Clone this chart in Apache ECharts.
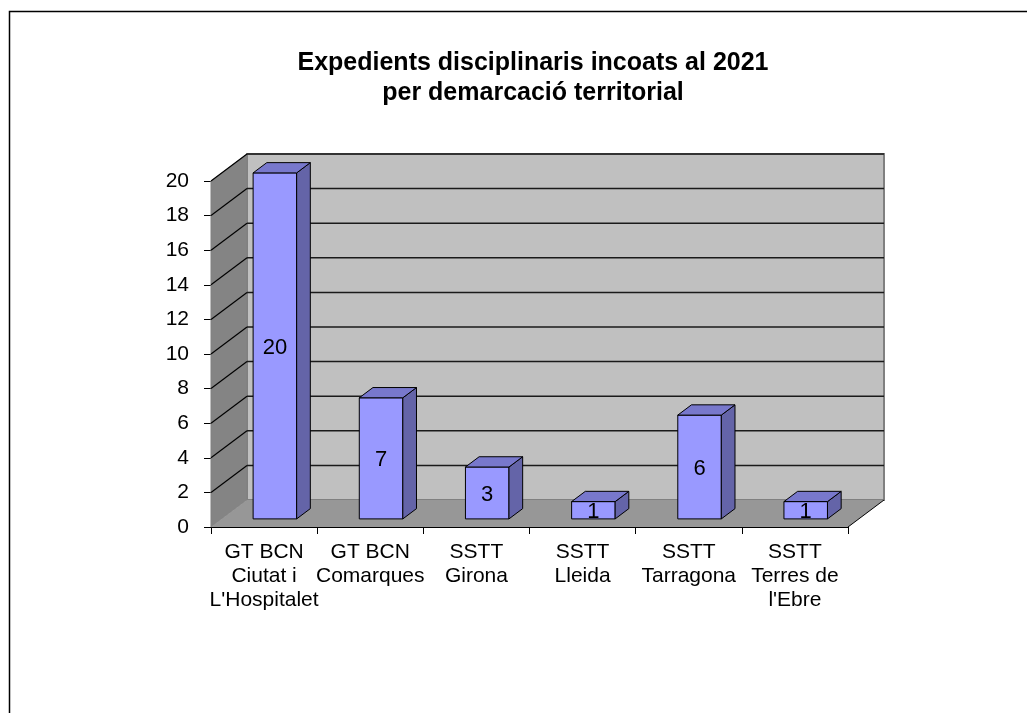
<!DOCTYPE html>
<html>
<head>
<meta charset="utf-8">
<script src="https://cdn.jsdelivr.net/npm/echarts@6/dist/echarts.min.js"></script>
<style>
html,body{margin:0;padding:0;background:#fff;}
#main{width:1027px;height:713px;}
</style>
</head>
<body>
<div id="main"></div>
<script>
var categories = ["GT BCN\nCiutat i\nL'Hospitalet", "GT BCN\nComarques", "SSTT\nGirona", "SSTT\nLleida", "SSTT\nTarragona", "SSTT\nTerres de\nl'Ebre"];
var values = [20, 7, 3, 1, 6, 1];
var yTicks = [0, 2, 4, 6, 8, 10, 12, 14, 16, 18, 20];
var titleText = "Expedients disciplinaris incoats al 2021\nper demarcació territorial";

var FONT = "'Liberation Sans', Arial, sans-serif";
var DX = 36, DY = -27;
var F0 = 0.3, FD = 0.38, BW = 0.41;

var chart = echarts.init(document.getElementById('main'));

function renderWalls(params, api) {
  var bw = api.size([1, 0])[0];
  var p0 = api.coord([0, 0]);
  var pn = api.coord([categories.length - 1, 0]);
  var x0 = p0[0] - bw / 2, x1 = pn[0] + bw / 2, y0 = p0[1];
  var yTop = api.coord([0, yTicks[yTicks.length - 1]])[1];
  var ch = [];
  ch.push({type: 'polygon', shape: {points: [[x0 + DX, y0 + DY], [x1 + DX, y0 + DY], [x1 + DX, yTop + DY], [x0 + DX, yTop + DY]]},
    style: {fill: '#c0c0c0', stroke: '#808080', lineWidth: 2}});
  ch.push({type: 'polygon', shape: {points: [[x0, y0], [x0 + DX, y0 + DY], [x0 + DX, yTop + DY], [x0, yTop]]},
    style: {fill: '#848484', stroke: '#808080', lineWidth: 1}});
  ch.push({type: 'polygon', shape: {points: [[x0, y0], [x1, y0], [x1 + DX, y0 + DY], [x0 + DX, y0 + DY]]},
    style: {fill: '#979797', stroke: null}});
  ch.push({type: 'line', shape: {x1: x1, y1: y0, x2: x1 + DX, y2: y0 + DY}, style: {stroke: '#000', lineWidth: 1}});
  for (var i = 0; i < yTicks.length; i++) {
    var v = yTicks[i];
    if (v === 0) continue;
    var y = api.coord([0, v])[1];
    ch.push({type: 'line', shape: {x1: x0, y1: y, x2: x0 + DX, y2: y + DY}, style: {stroke: '#000', lineWidth: 1.2}});
    ch.push({type: 'line', shape: {x1: x0 + DX, y1: y + DY, x2: x1 + DX, y2: y + DY}, style: {stroke: '#1a1a1a', lineWidth: 1.5}});
  }
  return {type: 'group', children: ch};
}

function renderBar(params, api) {
  var idx = api.value(0), v = api.value(1);
  var bw = api.size([1, 0])[0];
  var pTop = api.coord([idx, v]);
  var pBot = api.coord([idx, 0]);
  var w = bw * BW;
  var cx = pTop[0] + DX * F0;
  var l = cx - w / 2, r = cx + w / 2;
  var yb = pBot[1] + DY * F0, yt = pTop[1] + DY * F0;
  var bdx = DX * FD, bdy = DY * FD;
  var st = {stroke: '#000', lineWidth: 1, lineJoin: 'round'};
  return {type: 'group', children: [
    {type: 'polygon', shape: {points: [[l, yb], [r, yb], [r, yt], [l, yt]]}, style: Object.assign({fill: '#9999ff'}, st)},
    {type: 'polygon', shape: {points: [[r, yb], [r + bdx, yb + bdy], [r + bdx, yt + bdy], [r, yt]]}, style: Object.assign({fill: '#6464a8'}, st)},
    {type: 'polygon', shape: {points: [[l, yt], [r, yt], [r + bdx, yt + bdy], [l + bdx, yt + bdy]]}, style: Object.assign({fill: '#7878cc'}, st)},
    {type: 'text', x: cx, y: (yb + yt) / 2 + 2, style: {text: String(v), fill: '#000', font: '22px ' + FONT, align: 'center', verticalAlign: 'middle'}}
  ]};
}

chart.setOption({
  animation: false,
  backgroundColor: '#fff',
  title: {
    text: titleText, left: 528, top: 43, textAlign: 'center',
    textStyle: {fontFamily: FONT, fontSize: 25, fontWeight: 'bold', color: '#000', lineHeight: 30}
  },
  graphic: [{type: 'rect', z: -10, shape: {x: 9.5, y: 11.5, width: 1100, height: 800}, style: {fill: null, stroke: '#000', lineWidth: 1.5}}],
  grid: {left: 211, top: 181, width: 637, height: 346, containLabel: false},
  xAxis: {
    type: 'category', data: categories, boundaryGap: true,
    axisLine: {show: true, lineStyle: {color: '#000', width: 1}},
    axisTick: {show: true, length: 7, lineStyle: {color: '#000'}},
    axisLabel: {color: '#000', fontFamily: FONT, fontSize: 21, lineHeight: 24, margin: 13, interval: 0},
    splitLine: {show: false}
  },
  yAxis: {
    type: 'value', min: 0, max: 20, interval: 2,
    axisLine: {show: true, lineStyle: {color: '#000', width: 1}},
    axisTick: {show: true, length: 7, lineStyle: {color: '#000'}},
    axisLabel: {color: '#000', fontFamily: FONT, fontSize: 21, margin: 22},
    splitLine: {show: false}
  },
  series: [
    {type: 'custom', name: 'walls', z: 1, silent: true, renderItem: renderWalls, data: [[0, 0]]},
    {type: 'custom', name: 'bars', z: 3, renderItem: renderBar, data: values.map(function (v, i) { return [i, v]; })}
  ]
});
</script>
</body>
</html>
